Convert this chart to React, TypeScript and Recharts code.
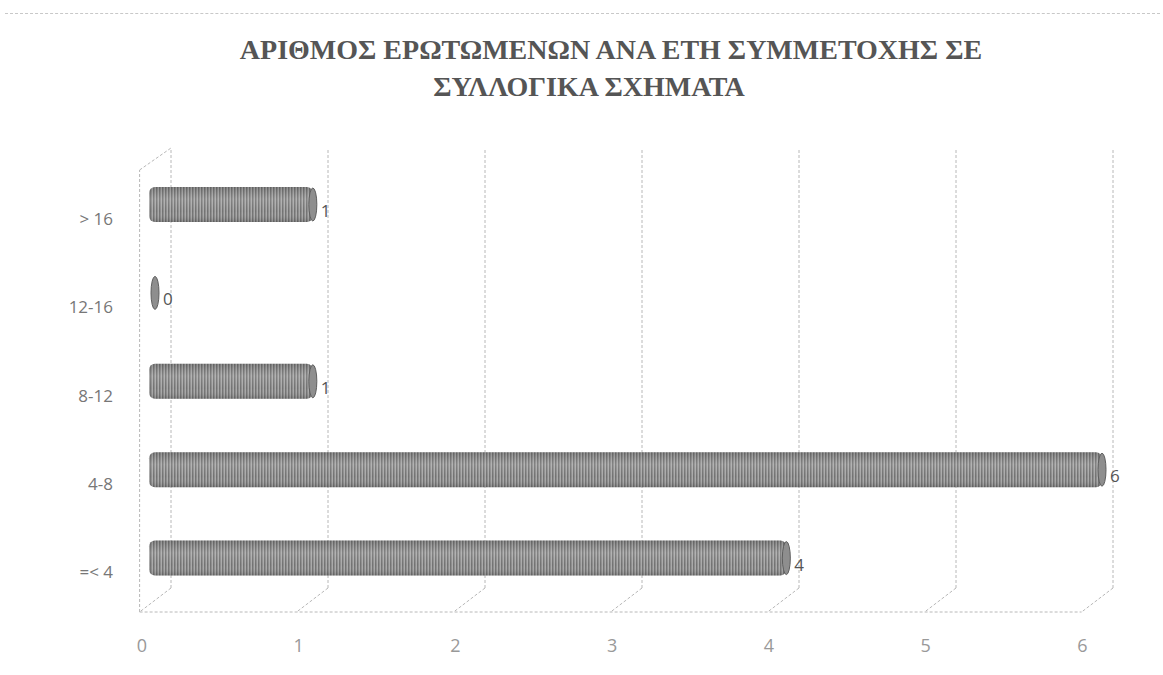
import {
  BarChart,
  Bar,
  LineChart,
  XAxis,
  YAxis,
  ReferenceLine,
  LabelList,
} from "recharts";

// years of participation in collective bodies
const categories = ["> 16", "12-16", "8-12", "4-8", "=< 4"];
const respondents = [1, 0, 1, 6, 4];
const xTicks = [0, 1, 2, 3, 4, 5, 6];

const titleLines = [
  "ΑΡΙΘΜΟΣ ΕΡΩΤΩΜΕΝΩΝ ΑΝΑ ΕΤΗ ΣΥΜΜΕΤΟΧΗΣ ΣΕ",
  "ΣΥΛΛΟΓΙΚΑ ΣΧΗΜΑΤΑ",
];

const chartData = categories.map((name, i) => ({ name, value: respondents[i] }));
const frameData = xTicks.map((t) => ({ t }));

const W = 1163;
const H = 675;
const MARGIN = { top: 148, right: 50, bottom: 63, left: 139 };

// pseudo-3d frame, in wall units
const WALL_TOP = 464;
const LEFT_TOP = 442;
const FLOOR_BACK = 24;
const DEPTH_X = 0.2;

const FRAME = "#b8b8b8";
const DASH = "3 2";

const CylinderBar = (props: any) => {
  const { x, y, width, height } = props;
  const w = Math.max(width || 0, 0);
  const left = x - 6;
  const right = x + w;
  return (
    <g>
      {w > 0 && (
        <>
          <rect x={left} y={y} width={right - left} height={height} rx={6} fill="url(#stripes)" />
          <rect x={left} y={y} width={right - left} height={height} rx={6} fill="url(#shade)" />
        </>
      )}
      <ellipse
        cx={right}
        cy={y + height / 2}
        rx={4}
        ry={height / 2 - 1}
        fill="#8e8e8e"
        stroke="#5e5e5e"
        strokeWidth={1}
      />
    </g>
  );
};

const YTick = (props: any) => {
  const { x, y, payload } = props;
  return (
    <text
      x={x - 18}
      y={y + 14}
      textAnchor="end"
      dominantBaseline="central"
      fontSize={17}
      fill="#777"
      fontFamily="'Open Sans', sans-serif"
    >
      {payload.value}
    </text>
  );
};

// tick labels sit on the front edge of the floor, a bit left of the bars' scale
const XTick = (props: any) => {
  const { x, payload } = props;
  return (
    <text
      x={x - 13 - 1.1 * payload.value}
      y={645}
      textAnchor="middle"
      dominantBaseline="central"
      fontSize={18}
      fill="#999"
      fontFamily="'Open Sans', sans-serif"
    >
      {payload.value}
    </text>
  );
};

const ValueLabel = (props: any) => {
  const { x, y, width, height, value } = props;
  return (
    <text
      x={x + Math.max(width || 0, 0) + 8}
      y={y + height / 2 + 6}
      dominantBaseline="central"
      fontSize={17}
      fill="#555"
      fontFamily="'Open Sans', sans-serif"
    >
      {value}
    </text>
  );
};

function Frame() {
  const seg = (x1: number, y1: number, x2: number, y2: number, key: string) => (
    <ReferenceLine
      key={key}
      segment={[
        { x: x1, y: y1 },
        { x: x2, y: y2 },
      ]}
      stroke={FRAME}
      strokeDasharray={DASH}
      ifOverflow="visible"
    />
  );
  const last = xTicks[xTicks.length - 1];
  return (
    <LineChart width={W} height={H} margin={MARGIN} data={frameData}>
      <XAxis
        dataKey="t"
        type="number"
        domain={[0, last]}
        allowDataOverflow
        padding={{ left: 32, right: 0 }}
        hide
      />
      <YAxis type="number" domain={[0, WALL_TOP]} allowDataOverflow hide />
      {xTicks.map((t) => seg(t, FLOOR_BACK, t, WALL_TOP, "v" + t))}
      {xTicks.map((t) => seg(t, FLOOR_BACK, t - DEPTH_X, 0, "d" + t))}
      {seg(-DEPTH_X, 0, last - DEPTH_X, 0, "front")}
      {seg(-DEPTH_X, 0, -DEPTH_X, LEFT_TOP, "left")}
      {seg(-DEPTH_X, LEFT_TOP, 0, WALL_TOP, "leftTop")}
    </LineChart>
  );
}

export default function App() {
  return (
    <div
      style={{
        position: "absolute",
        left: 0,
        top: 0,
        width: W,
        height: H,
        background: "#fff",
        overflow: "hidden",
      }}
    >
      <div
        style={{
          position: "absolute",
          left: 5,
          right: 3,
          top: 13,
          borderTop: "1px dashed #c8c8c8",
        }}
      />
      {titleLines.map((line, i) => (
        <div
          key={line}
          style={{
            position: "absolute",
            left: i === 0 ? 611 : 589,
            top: i === 0 ? 33 : 70,
            transform: "translateX(-50%)",
            whiteSpace: "nowrap",
            fontFamily: "'Liberation Serif', serif",
            fontWeight: "bold",
            fontSize: 28,
            color: "#555",
            lineHeight: "34px",
          }}
        >
          {line}
        </div>
      ))}
      <div style={{ position: "absolute", left: 0, top: 0 }}>
        <Frame />
      </div>
      <div style={{ position: "absolute", left: 0, top: 0 }}>
        <BarChart
          width={W}
          height={H}
          data={chartData}
          layout="vertical"
          margin={{ top: 148, right: 50, bottom: 23, left: 0 }}
          barSize={35}
        >
          <defs>
            <pattern id="stripes" width="3" height="10" patternUnits="userSpaceOnUse">
              <rect width="3" height="10" fill="#a9a9a9" />
              <rect width="1.5" height="10" fill="#727272" />
            </pattern>
            <linearGradient id="shade" x1="0" y1="0" x2="0" y2="1">
              <stop offset="0%" stopColor="#000" stopOpacity={0.15} />
              <stop offset="35%" stopColor="#fff" stopOpacity={0.12} />
              <stop offset="70%" stopColor="#fff" stopOpacity={0} />
              <stop offset="100%" stopColor="#000" stopOpacity={0.18} />
            </linearGradient>
          </defs>

          <XAxis
            type="number"
            domain={[0, 6]}
            ticks={xTicks}
            padding={{ left: 16, right: 11 }}
            axisLine={false}
            tickLine={false}
            height={40}
            tick={<XTick />}
          />
          <YAxis
            type="category"
            dataKey="name"
            width={139}
            padding={{ top: 12, bottom: 10 }}
            axisLine={false}
            tickLine={false}
            tick={<YTick />}
          />

          <Bar dataKey="value" shape={<CylinderBar />} isAnimationActive={false}>
            <LabelList dataKey="value" content={<ValueLabel />} />
          </Bar>
        </BarChart>
      </div>
    </div>
  );
}
